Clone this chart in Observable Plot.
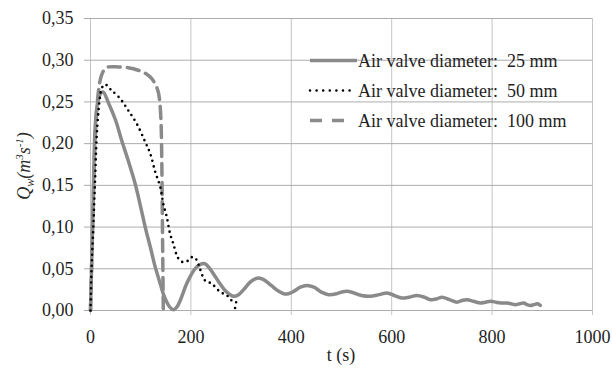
<!DOCTYPE html>
<html>
<head>
<meta charset="utf-8">
<script src="https://cdn.jsdelivr.net/npm/d3@7"></script>
<script src="https://cdn.jsdelivr.net/npm/@observablehq/plot@0.6"></script>
<style>
  html, body { margin: 0; padding: 0; background: #fff; }
  #chart { width: 612px; height: 369px; }
  #chart svg, #chart svg text { font-family: "Liberation Serif", "DejaVu Serif", serif !important; }
</style>
</head>
<body>
<div id="chart"></div>
<script>
// Series names
const seriesNames = ["Air valve diameter:  25 mm", "Air valve diameter:  50 mm", "Air valve diameter:  100 mm"];

// 25 mm (solid grey)
const t25 = [0,2,5,9,13,16,20,25,35,50,62,75,89,100,109,120,129,138,145,152,158,165,172,180,190,198,208,218,228,238,248,258,268,278,285,295,305,318,328,335,345,360,375,385,394,405,418,431,445,460,474,490,500,511,525,540,557,575,591,605,620,635,650,665,677,690,700,715,730,740,750,763,777,787,797,808,817,830,838,846,855,863,870,876,883,890,896];
const q25 = [0,0.048,0.12,0.216,0.245,0.254,0.26,0.262,0.250,0.228,0.204,0.180,0.152,0.124,0.100,0.074,0.052,0.034,0.020,0.010,0.004,0.001,0.004,0.014,0.030,0.040,0.050,0.055,0.056,0.050,0.041,0.032,0.024,0.019,0.017,0.019,0.025,0.034,0.038,0.039,0.037,0.030,0.023,0.020,0.020,0.023,0.028,0.030,0.028,0.022,0.019,0.020,0.022,0.023,0.021,0.018,0.017,0.019,0.021,0.018,0.015,0.016,0.018,0.016,0.013,0.014,0.016,0.013,0.010,0.012,0.013,0.011,0.009,0.010,0.011,0.010,0.009,0.009,0.008,0.007,0.008,0.009,0.007,0.006,0.007,0.008,0.006];

// 50 mm (dotted black)
const t50 = [0,2,5.6,9,12.3,16,19,22,29,40,59,75,92,109,119,129,139,145,152,158.5,165,172,178,185,195,202,208,212,218,228,235,242,255,265,272,278,283,287,290,288];
const q50 = [0,0.048,0.10,0.154,0.208,0.240,0.256,0.266,0.271,0.265,0.254,0.240,0.224,0.202,0.188,0.166,0.148,0.128,0.112,0.092,0.080,0.066,0.060,0.058,0.060,0.064,0.063,0.060,0.050,0.036,0.034,0.032,0.024,0.020,0.018,0.014,0.011,0.010,0.010,0.003];

// 100 mm (dashed grey)
const t100 = [0,2,5,9,13,17,20,24,29,36,55,75,95,110,122,130,135,138,140.5,142,143,144,145];
const q100 = [0,0.048,0.12,0.20,0.245,0.268,0.278,0.285,0.290,0.292,0.292,0.291,0.288,0.284,0.278,0.270,0.262,0.250,0.226,0.180,0.120,0.060,0];

// Axis ticks
const xTicks = [0,200,400,600,800,1000];
const yTicks = [0,0.05,0.10,0.15,0.20,0.25,0.30,0.35];

const toRows = (ts, qs, s) => ts.map((t, i) => ({t, q: qs[i], s}));
const d25 = toRows(t25, q25, seriesNames[0]);
const d50 = toRows(t50, q50, seriesNames[1]);
const d100 = toRows(t100, q100, seriesNames[2]);

const grey = "#8a8a8a";
const textColor = "#1e1e1e";
const fmt = d => d.toFixed(2).replace(".", ",");
const font = "Liberation Serif, DejaVu Serif, serif";

const plot = Plot.plot({
  width: 612,
  height: 369,
  marginLeft: 90,
  marginRight: 20,
  marginTop: 18,
  marginBottom: 59,
  style: {fontFamily: font, fontSize: "18px", background: "#fff"},
  x: {domain: [0, 1000]},
  y: {domain: [0, 0.35]},
  marks: [
    Plot.gridX(xTicks, {stroke: "#c4c4c4", strokeOpacity: 1}),
    Plot.gridY(yTicks, {stroke: "#acacac", strokeOpacity: 1}),
    Plot.axisX(xTicks, {tickSize: 5, tickPadding: 15, stroke: "#c4c4c4", fill: textColor, label: null, fontSize: 18, tickFormat: d => String(d)}),
    Plot.axisY(yTicks, {tickSize: 6, tickPadding: 11, stroke: "#acacac", fill: textColor, label: null, tickFormat: fmt, fontSize: 18}),
    Plot.line(d25, {x: "t", y: "q", stroke: grey, strokeWidth: 3.5, curve: "catmull-rom"}),
    Plot.line(d100, {x: "t", y: "q", stroke: grey, strokeWidth: 3.5, strokeDasharray: "12 7", curve: "catmull-rom"}),
    Plot.line(d50, {x: "t", y: "q", stroke: "#000", strokeWidth: 2.6, strokeDasharray: "0 5.6", strokeLinecap: "round", curve: "catmull-rom"})
  ]
});

document.getElementById("chart").appendChild(plot);

const svg = d3.select(plot);

// Y label
const yl = svg.append("text")
  .attr("transform", "translate(30,166) rotate(-90)")
  .attr("text-anchor", "middle")
  .attr("font-family", font)
  .attr("font-size", 18)
  .attr("font-style", "italic")
  .attr("fill", "#2a2a2a");
yl.append("tspan").text("Q");
yl.append("tspan").attr("font-size", 12).attr("dy", 4).text("w");
yl.append("tspan").attr("dy", -4).text("(m");
yl.append("tspan").attr("font-size", 11).attr("dy", -7).text("3");
yl.append("tspan").attr("dy", 7).text("s");
yl.append("tspan").attr("font-size", 11).attr("dy", -7).text("-1");
yl.append("tspan").attr("dy", 7).text(")");

// X label
svg.append("text")
  .attr("x", 341).attr("y", 361)
  .attr("text-anchor", "middle")
  .attr("font-family", font)
  .attr("font-size", 18)
  .attr("fill", textColor)
  .text("t (s)");

// Legend
const legendStyles = [
  {stroke: grey, width: 3.5, dash: null, x2: 357, cap: "butt"},
  {stroke: "#000", width: 2.6, dash: "0 6.6", x2: 350, cap: "round"},
  {stroke: grey, width: 3.5, dash: "12 10", x2: 345, cap: "butt"}
];
seriesNames.forEach((name, i) => {
  const base = 67 + i * 30;
  const st = legendStyles[i];
  const ln = svg.append("line")
    .attr("x1", 310).attr("x2", st.x2)
    .attr("y1", base - 6.5).attr("y2", base - 6.5)
    .attr("stroke", st.stroke).attr("stroke-width", st.width)
    .attr("stroke-linecap", st.cap);
  if (st.dash) ln.attr("stroke-dasharray", st.dash);
  svg.append("text")
    .attr("x", 358).attr("y", base)
    .attr("text-anchor", "start")
    .attr("font-family", font)
    .attr("font-size", 18)
    .attr("fill", textColor)
    .style("white-space", "pre")
    .text(name);
});
</script>
</body>
</html>
